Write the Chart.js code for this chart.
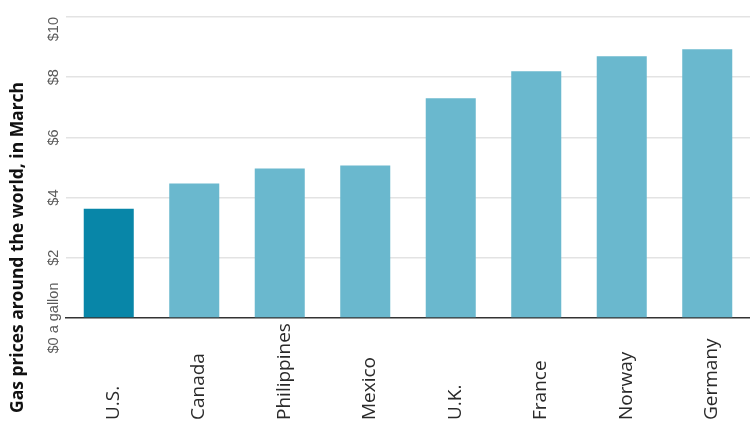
<!DOCTYPE html>
<html>
<head>
<meta charset="utf-8">
<script src="https://cdn.jsdelivr.net/npm/chart.js@4"></script>
<style>
  html, body { margin: 0; padding: 0; background: #fff; }
  #wrap { width: 750px; height: 425px; position: relative; }
</style>
</head>
<body>
<div id="wrap"><canvas id="c" width="750" height="425"></canvas></div>
<script>
const categories = ["U.S.", "Canada", "Philippines", "Mexico", "U.K.", "France", "Norway", "Germany"];
const prices = [3.63, 4.47, 4.97, 5.07, 7.3, 8.2, 8.7, 8.93];
const yTickValues = [0, 2, 4, 6, 8, 10];
const yTickLabels = ["$0 a gallon", "$2", "$4", "$6", "$8", "$10"];
const axisTitle = "Gas prices around the world, in March";

const usColor = "#0886a8";
const otherColor = "#6ab8ce";

const customText = {
  id: "customText",
  afterDraw(chart) {
    const ctx = chart.ctx;
    const ys = chart.scales.y;
    const xs = chart.scales.x;
    ctx.save();
    // y tick labels, rotated
    ctx.fillStyle = "#5a5a5a";
    ctx.font = "14.5px 'Liberation Sans', Arial, sans-serif";
    ctx.textBaseline = "alphabetic";
    yTickValues.forEach((v, i) => {
      const py = ys.getPixelForValue(v);
      ctx.save();
      ctx.translate(57.5, py);
      ctx.rotate(-Math.PI / 2);
      ctx.textAlign = (i === yTickValues.length - 1) ? "right" : "center";
      ctx.fillText(yTickLabels[i], 0, 0);
      ctx.restore();
    });
    // x labels, rotated, bottom aligned
    ctx.fillStyle = "#2a2a2a";
    ctx.font = "19px 'Open Sans', 'Noto Sans', sans-serif";
    ctx.textAlign = "left";
    ctx.textBaseline = "alphabetic";
    categories.forEach((c, i) => {
      const px = xs.getPixelForValue(i);
      ctx.save();
      ctx.translate(px + 10, 420);
      ctx.rotate(-Math.PI / 2);
      ctx.fillText(c, 0, 0);
      ctx.restore();
    });
    // axis title
    ctx.fillStyle = "#111";
    ctx.font = "bold 18px 'Open Sans', 'Noto Sans', sans-serif";
    const w = ctx.measureText(axisTitle).width;
    const target = 331;
    ctx.save();
    ctx.translate(23, 413);
    ctx.rotate(-Math.PI / 2);
    ctx.scale(target / w, 1);
    ctx.textAlign = "left";
    ctx.textBaseline = "alphabetic";
    ctx.fillText(axisTitle, 0, 0);
    ctx.restore();
    ctx.restore();
  }
};

new Chart(document.getElementById("c"), {
  type: "bar",
  data: {
    labels: categories,
    datasets: [{
      data: prices,
      backgroundColor: categories.map((c, i) => i === 0 ? usColor : otherColor),
      borderWidth: 0,
      barPercentage: 1,
      categoryPercentage: 0.585
    }]
  },
  options: {
    responsive: false,
    animation: false,
    devicePixelRatio: 1,
    layout: { padding: { top: 17, right: 0, left: 0, bottom: 0 } },
    plugins: { legend: { display: false }, tooltip: { enabled: false }, title: { display: false } },
    scales: {
      x: {
        grid: { display: false },
        border: { display: true, color: "#333", width: 1.5 },
        ticks: { display: false },
        afterFit(scale) { scale.height = 107; }
      },
      y: {
        min: 0, max: 10,
        afterBuildTicks(scale) { scale.ticks = yTickValues.map(v => ({ value: v })); },
        grid: {
          color: ctx => ctx.tick && ctx.tick.value === 0 ? "rgba(0,0,0,0)" : "#e3e3e3",
          lineWidth: 1.5,
          drawTicks: false
        },
        border: { display: false },
        ticks: { display: false },
        afterFit(scale) { scale.width = 66; }
      }
    }
  },
  plugins: [customText]
});
</script>
</body>
</html>
